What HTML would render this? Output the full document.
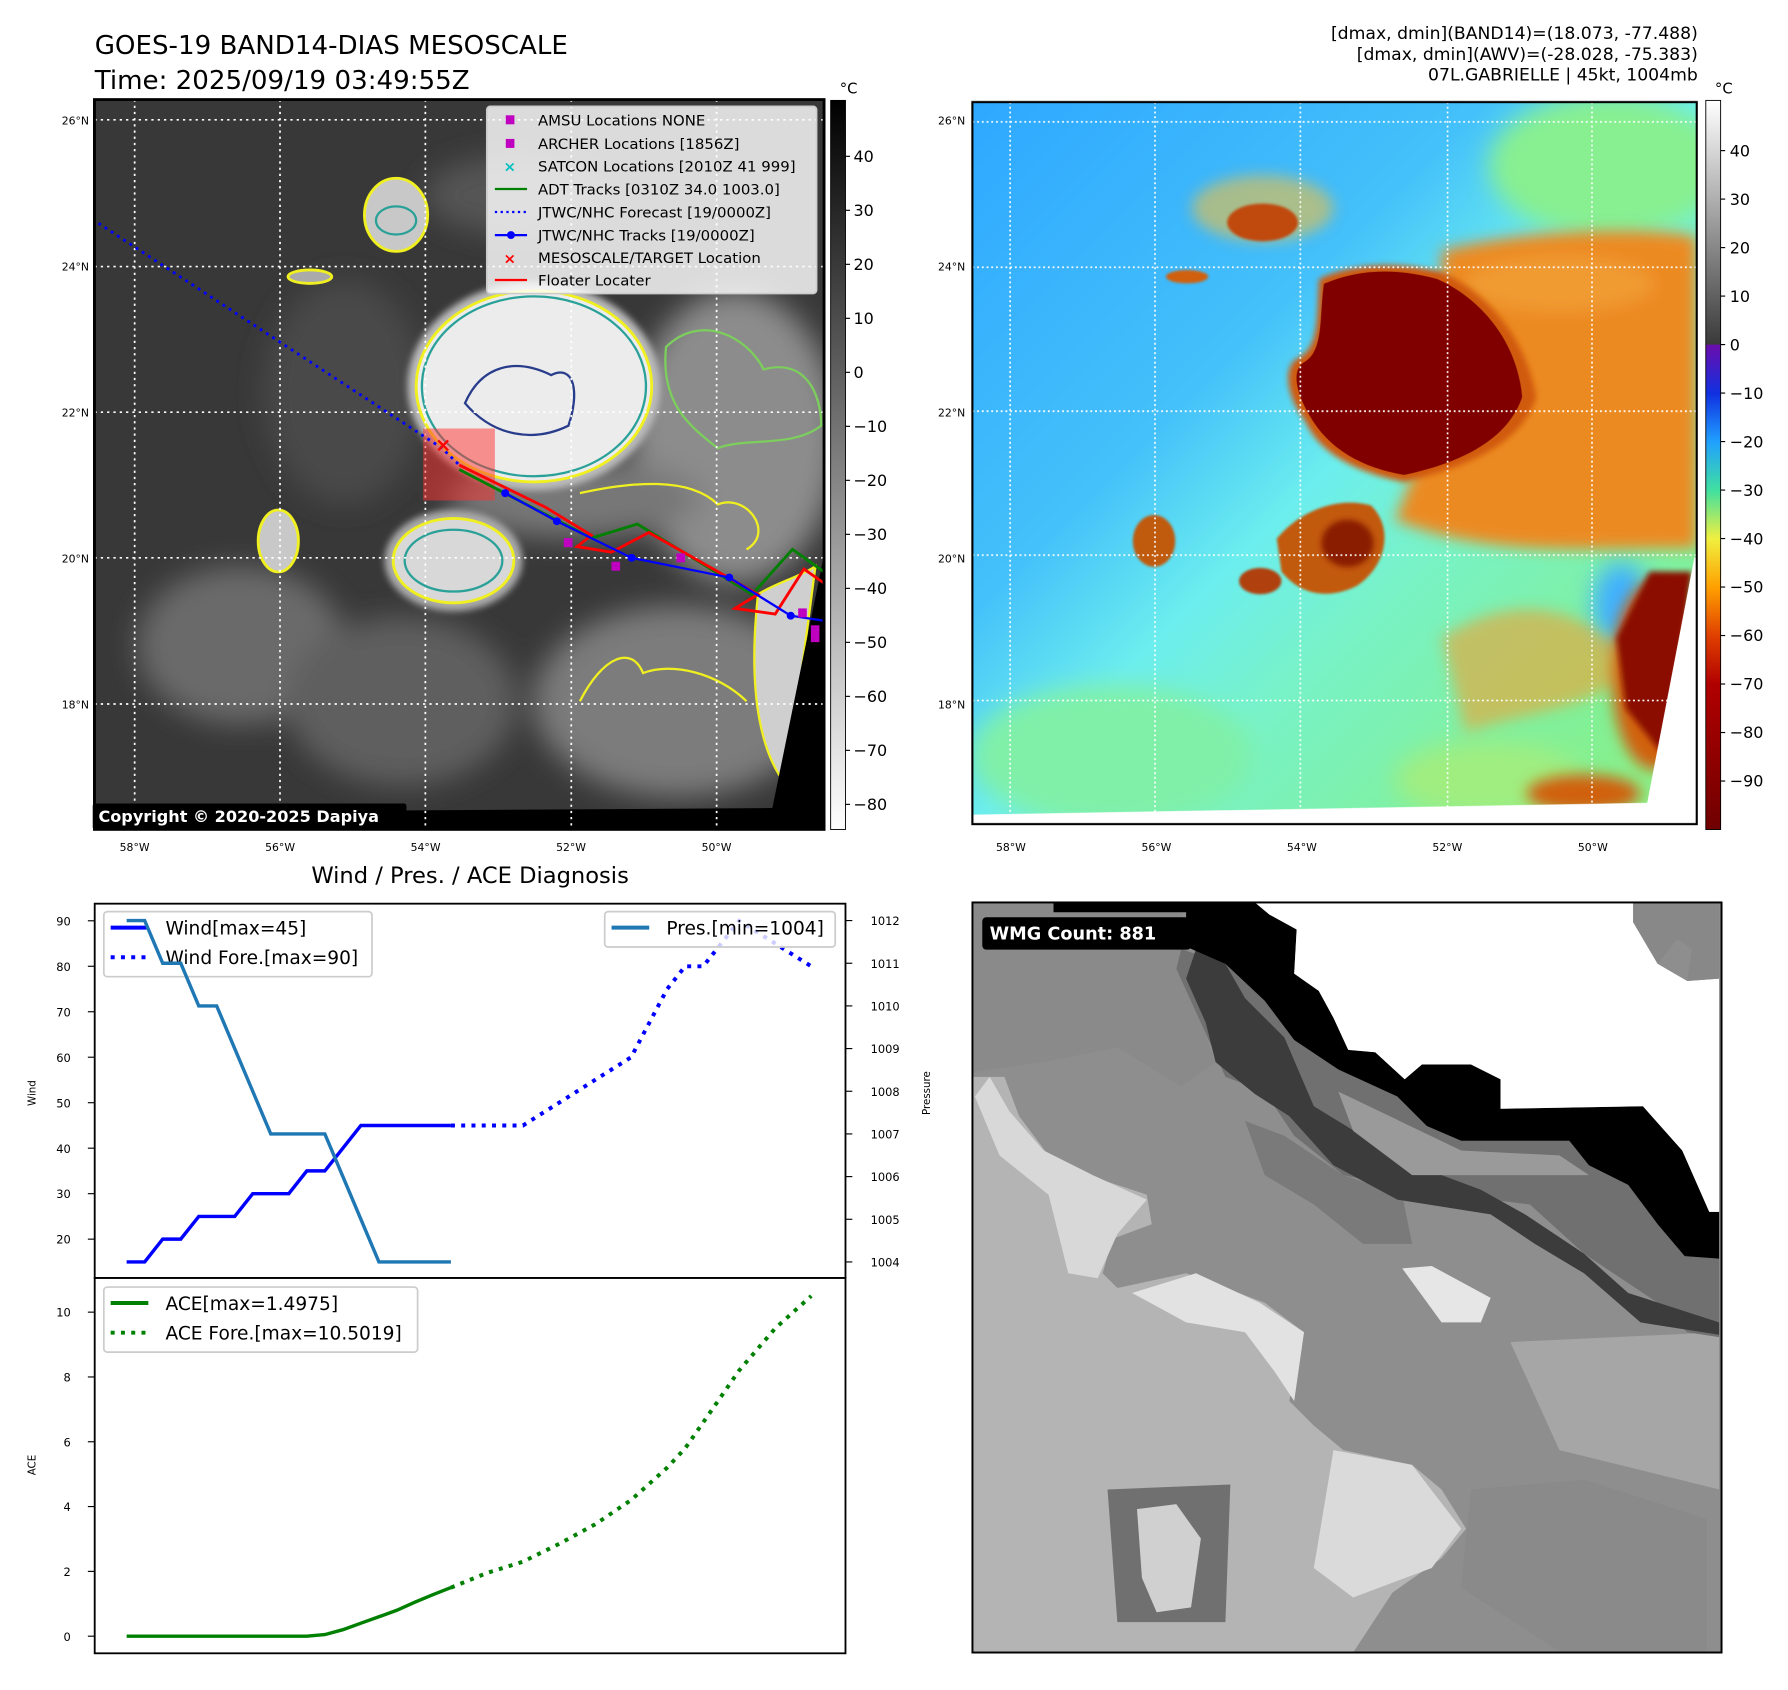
<!DOCTYPE html>
<html><head><meta charset="utf-8"><style>
html,body{margin:0;padding:0;background:#fff;}
svg{display:block;font-family:"DejaVu Sans","Liberation Sans",sans-serif;}
</style></head><body>
<svg id="root" width="1788" height="1690" viewBox="0 0 1788 1690" xmlns="http://www.w3.org/2000/svg">
<defs>
<filter id="b6" x="-50%" y="-50%" width="200%" height="200%"><feGaussianBlur stdDeviation="6"/></filter>
<filter id="b15" x="-50%" y="-50%" width="200%" height="200%"><feGaussianBlur stdDeviation="15"/></filter>
<filter id="b25" x="-50%" y="-50%" width="200%" height="200%"><feGaussianBlur stdDeviation="25"/></filter>
<filter id="b3" x="-50%" y="-50%" width="200%" height="200%"><feGaussianBlur stdDeviation="3"/></filter>
<linearGradient id="cbL" x1="0" y1="0" x2="0" y2="1"><stop offset="0" stop-color="#000"/><stop offset="1" stop-color="#fff"/></linearGradient>
<linearGradient id="cbR" x1="0" y1="0" x2="0" y2="1">
<stop offset="0" stop-color="#ffffff"/><stop offset="0.334" stop-color="#3a3a3a"/><stop offset="0.336" stop-color="#6a0dad"/>
<stop offset="0.402" stop-color="#1030e0"/><stop offset="0.468" stop-color="#20a0ff"/><stop offset="0.535" stop-color="#40e0a0"/>
<stop offset="0.601" stop-color="#f0f040"/><stop offset="0.668" stop-color="#ffa000"/><stop offset="0.734" stop-color="#e04000"/>
<stop offset="0.801" stop-color="#b00000"/><stop offset="1" stop-color="#700000"/></linearGradient>
<linearGradient id="awvBg" x1="0" y1="0" x2="1" y2="1">
<stop offset="0" stop-color="#2ea8ff"/><stop offset="0.35" stop-color="#44c0fa"/><stop offset="0.5" stop-color="#6ceeee"/><stop offset="0.62" stop-color="#78f2c8"/><stop offset="0.85" stop-color="#82f096"/><stop offset="1" stop-color="#90f080"/></linearGradient>
<clipPath id="clipL"><rect x="165" y="180" width="1270" height="1298"/></clipPath>
<clipPath id="clipR"><rect x="5" y="15" width="1535" height="1530"/></clipPath>
<clipPath id="clipW"><rect x="5" y="5" width="1525" height="1527"/></clipPath>
</defs>

<g transform="scale(1.141)">
<text x="83" y="47.5" font-size="22.9" fill="#000">GOES-19 BAND14-DIAS MESOSCALE</text>
<text x="83" y="78" font-size="22.9" fill="#000">Time: 2025/09/19 03:49:55Z</text>
<g font-size="15.1" text-anchor="end" fill="#000">
<text x="1488" y="34">[dmax, dmin](BAND14)=(18.073, -77.488)</text>
<text x="1488" y="52.5">[dmax, dmin](AWV)=(-28.028, -75.383)</text>
<text x="1488" y="70.5">07L.GABRIELLE | 45kt, 1004mb</text>
</g>

<g transform="matrix(0.5035,0,0,0.4928,-0.3,-1.45)">
<g clip-path="url(#clipL)">
<rect x="165" y="180" width="1270" height="1298" fill="#383838"/>
<g filter="url(#b25)">
<ellipse cx="420" cy="1150" rx="180" ry="140" fill="#6a6a6a"/>
<ellipse cx="700" cy="1250" rx="200" ry="150" fill="#5e5e5e"/>
<ellipse cx="600" cy="700" rx="140" ry="200" fill="#4a4a4a"/>
<ellipse cx="1280" cy="780" rx="180" ry="260" fill="#8c8c8c"/>
<ellipse cx="1180" cy="1250" rx="250" ry="170" fill="#7c7c7c"/>
<ellipse cx="1000" cy="890" rx="220" ry="70" fill="#777"/>
<ellipse cx="900" cy="350" rx="160" ry="70" fill="#555"/>
</g>
<g filter="url(#b6)">
<ellipse cx="930" cy="690" rx="220" ry="185" fill="#bbb"/>
<ellipse cx="790" cy="1000" rx="120" ry="90" fill="#aaa"/>
</g>
<ellipse cx="930" cy="690" rx="205" ry="170" fill="#ececec" stroke="#f0f020" stroke-width="5"/>
<ellipse cx="930" cy="690" rx="195" ry="160" fill="none" stroke="#2aa198" stroke-width="4"/>
<path d="M810,720 C840,650 900,640 960,670 C1000,650 1010,700 990,760 C930,790 860,780 810,720Z" fill="none" stroke="#283c8c" stroke-width="4"/>
<ellipse cx="790" cy="1000" rx="105" ry="75" fill="#d8d8d8" stroke="#f0f020" stroke-width="5"/>
<ellipse cx="790" cy="1000" rx="85" ry="55" fill="none" stroke="#2aa198" stroke-width="4"/>
<ellipse cx="485" cy="965" rx="35" ry="55" fill="#c8c8c8" stroke="#f0f020" stroke-width="5"/>
<ellipse cx="690" cy="385" rx="55" ry="65" fill="#c8c8c8" stroke="#f0f020" stroke-width="5"/>
<ellipse cx="690" cy="395" rx="35" ry="25" fill="none" stroke="#2aa198" stroke-width="4"/>
<ellipse cx="540" cy="495" rx="38" ry="12" fill="#aaa" stroke="#f0f020" stroke-width="5"/>
<path d="M1160,620 C1220,560 1300,600 1330,660 C1400,640 1430,700 1430,760 C1380,800 1300,780 1250,800 C1200,760 1150,720 1160,620Z" fill="none" stroke="#7ccf5c" stroke-width="4"/>
<path d="M1010,880 C1100,860 1200,850 1250,900 C1300,880 1350,950 1300,980" fill="none" stroke="#f0f020" stroke-width="4"/>
<path d="M1320,1060 C1350,1040 1390,1030 1420,1010 L1370,1400 C1330,1350 1300,1250 1320,1060Z" fill="#cfcfcf" stroke="#f0f020" stroke-width="4"/>
<path d="M1010,1250 C1050,1170 1100,1150 1120,1200 C1170,1180 1250,1200 1300,1250" fill="none" stroke="#f0f020" stroke-width="4"/>
<polygon points="1435,990 1345,1440 165,1448 165,1478 1435,1478" fill="#000"/>
<g stroke="#fff" stroke-width="3" stroke-dasharray="4,7">
<line x1="235" y1="180" x2="235" y2="1478"/><line x1="488" y1="180" x2="488" y2="1478"/><line x1="741" y1="180" x2="741" y2="1478"/><line x1="995" y1="180" x2="995" y2="1478"/><line x1="1248" y1="180" x2="1248" y2="1478"/>
<line x1="165" y1="216" x2="1435" y2="216"/><line x1="165" y1="477" x2="1435" y2="477"/><line x1="165" y1="736" x2="1435" y2="736"/><line x1="165" y1="995" x2="1435" y2="995"/><line x1="165" y1="1255" x2="1435" y2="1255"/>
</g>
<rect x="737" y="765" width="125" height="128" fill="#ff3030" opacity="0.5"/>
<polyline points="172,400 770,800 800,830" fill="none" stroke="#0000ff" stroke-width="5" stroke-dasharray="5,8"/>
<polyline points="800,838 1030,960 1110,935 1310,1060 1380,980 1435,1020" fill="none" stroke="#008000" stroke-width="5"/>
<polyline points="800,830 950,905 1030,955 1005,975 1065,985 1130,950 1320,1060 1280,1085 1350,1095 1400,1015 1435,1040" fill="none" stroke="#ff0000" stroke-width="5"/>
<polyline points="880,880 970,930 1100,995 1270,1030 1377,1098 1435,1107" fill="none" stroke="#0000ff" stroke-width="4"/>
<g fill="#0000ff"><circle cx="880" cy="880" r="7"/><circle cx="970" cy="930" r="7"/><circle cx="1100" cy="995" r="7"/><circle cx="1270" cy="1030" r="7"/><circle cx="1377" cy="1098" r="7"/></g>
<g fill="#c000c0"><rect x="982" y="960" width="15" height="16"/><rect x="1065" y="1002" width="15" height="16"/><rect x="1178" y="987" width="15" height="16"/><rect x="1390" y="1085" width="15" height="16"/><rect x="1412" y="1115" width="15" height="30"/></g>
<text x="772" y="806" font-size="34" fill="#ff0000" text-anchor="middle" font-weight="bold">×</text>
</g>
<rect x="165" y="180" width="1270" height="1298" fill="none" stroke="#000" stroke-width="5"/>
<rect x="162" y="1432" width="546" height="46" rx="4" fill="#000"/>
<text x="172" y="1465" font-size="28" font-weight="bold" fill="#fff">Copyright © 2020-2025 Dapiya</text>
<g>
<rect x="848" y="192" width="574" height="333" rx="6" fill="#fff" fill-opacity="0.82" stroke="#ccc" stroke-width="3"/>
<g font-size="26" fill="#000">
<rect x="881" y="208" width="15" height="16" fill="#c000c0"/><text x="937" y="226">AMSU Locations NONE</text>
<rect x="881" y="250" width="15" height="16" fill="#c000c0"/><text x="937" y="268">ARCHER Locations [1856Z]</text>
<text x="888" y="308" fill="#00c0c0" text-anchor="middle" font-weight="bold">×</text><text x="937" y="308">SATCON Locations [2010Z 41 999]</text>
<line x1="862" y1="339" x2="918" y2="339" stroke="#008000" stroke-width="4"/><text x="937" y="349">ADT Tracks [0310Z 34.0 1003.0]</text>
<line x1="862" y1="380" x2="918" y2="380" stroke="#0000ff" stroke-width="4" stroke-dasharray="4,6"/><text x="937" y="390">JTWC/NHC Forecast [19/0000Z]</text>
<line x1="862" y1="421" x2="918" y2="421" stroke="#0000ff" stroke-width="4"/><circle cx="890" cy="421" r="7" fill="#0000ff"/><text x="937" y="431">JTWC/NHC Tracks [19/0000Z]</text>
<text x="888" y="472" fill="#ff0000" text-anchor="middle" font-weight="bold">×</text><text x="937" y="471">MESOSCALE/TARGET Location</text>
<line x1="862" y1="501" x2="918" y2="501" stroke="#ff0000" stroke-width="4"/><text x="937" y="511">Floater Locater</text>
</g></g>
</g>
<rect x="728" y="88" width="13" height="639" fill="url(#cbL)" stroke="#000" stroke-width="0.8"/>
<text x="736" y="82" font-size="13">°C</text>
<g id="cbLticks" font-size="14" fill="#000"></g>
<g id="latlonL" font-size="9.5" fill="#000"></g>

<rect x="1495" y="88" width="13" height="639" fill="url(#cbR)" stroke="#000" stroke-width="0.8"/>
<text x="1503" y="82" font-size="13">°C</text>
<g id="cbRticks" font-size="14" fill="#000"></g>
<g id="latlonR" font-size="9.5" fill="#000"></g>

<text x="412" y="774" font-size="19.8" text-anchor="middle">Wind / Pres. / ACE Diagnosis</text>
<g id="chart"></g>
</g>

<g transform="translate(970,95) scale(0.4719)">
<g clip-path="url(#clipR)">
<rect x="5" y="15" width="1535" height="1530" fill="url(#awvBg)"/>
<g filter="url(#b25)">
<ellipse cx="1350" cy="150" rx="250" ry="150" fill="#88f090"/>
<ellipse cx="300" cy="1400" rx="300" ry="150" fill="#80f0a8"/>
<ellipse cx="1380" cy="1080" rx="60" ry="90" fill="#40b0ff"/>
<ellipse cx="1100" cy="1450" rx="200" ry="80" fill="#a0ee80"/>
</g>
<g filter="url(#b15)">
<path d="M1000,330 C1200,280 1450,280 1540,300 L1540,960 C1300,960 1100,980 900,900 C950,800 1000,600 1000,330Z" fill="#ec8a24"/>
<ellipse cx="1250" cy="400" rx="200" ry="60" fill="#f09a30"/>
<ellipse cx="620" cy="240" rx="150" ry="70" fill="#f0c040" opacity="0.6"/>
<path d="M1000,1150 C1150,1050 1300,1080 1400,1200 C1350,1300 1200,1300 1050,1350Z" fill="#f0a030" opacity="0.6"/>
<ellipse cx="1450" cy="1230" rx="90" ry="200" fill="#d06010"/>
<ellipse cx="1300" cy="1480" rx="120" ry="40" fill="#d06010"/>
</g>
<path d="M740,390 C800,360 900,350 1000,375 C1100,420 1180,520 1200,640 C1170,740 1050,790 920,820 C820,800 740,760 710,690 C670,640 660,570 700,555 C740,530 735,470 740,390Z" fill="#d05a10" filter="url(#b6)"/>
<path d="M750,400 C820,370 900,365 990,390 C1080,430 1160,520 1170,640 C1140,730 1040,780 920,805 C830,790 760,750 720,680 C690,630 680,580 710,565 C750,540 740,470 750,400Z" fill="#800000"/>
<path d="M650,940 C700,880 780,850 850,870 C900,920 880,1000 820,1040 C760,1070 700,1060 660,1010Z" fill="#c25a10" filter="url(#b3)"/>
<ellipse cx="800" cy="950" rx="55" ry="50" fill="#8a1a00" filter="url(#b6)"/>
<ellipse cx="390" cy="945" rx="45" ry="55" fill="#c05a10" filter="url(#b3)"/>
<ellipse cx="615" cy="1030" rx="45" ry="28" fill="#b04010" filter="url(#b3)"/>
<ellipse cx="620" cy="270" rx="75" ry="40" fill="#c04a10" filter="url(#b3)"/>
<ellipse cx="460" cy="385" rx="45" ry="14" fill="#d06010" filter="url(#b3)"/>
<path d="M1440,1010 L1530,1010 L1490,1300 L1470,1400 L1390,1300 L1370,1150Z" fill="#8a1000" filter="url(#b6)"/>
<polygon points="1535,980 1435,1500 5,1525 5,1545 1540,1545 1540,980" fill="#fff"/>
<g stroke="#fff" stroke-width="3.5" stroke-dasharray="4,6">
<line x1="85" y1="15" x2="85" y2="1545"/><line x1="392" y1="15" x2="392" y2="1545"/><line x1="700" y1="15" x2="700" y2="1545"/><line x1="1012" y1="15" x2="1012" y2="1545"/><line x1="1318" y1="15" x2="1318" y2="1545"/>
<line x1="5" y1="57" x2="1540" y2="57"/><line x1="5" y1="365" x2="1540" y2="365"/><line x1="5" y1="670" x2="1540" y2="670"/><line x1="5" y1="975" x2="1540" y2="975"/><line x1="5" y1="1283" x2="1540" y2="1283"/>
</g>
</g>
<rect x="5" y="15" width="1535" height="1530" fill="none" stroke="#000" stroke-width="4.5"/>
</g>

<g transform="translate(970,900) scale(0.4912)">
<g clip-path="url(#clipW)">
<rect x="5" y="5" width="1525" height="1527" fill="#8e8e8e"/>
<polygon points="5,5 430,5 440,100 470,250 500,330 430,380 300,300 150,330 5,350" fill="#8a8a8a"/>
<polygon points="5,360 70,360 100,440 160,520 240,560 360,600 370,660 290,690 270,760 300,790 440,760 600,820 680,880 650,1020 700,1070 760,1120 900,1150 960,1200 1010,1280 960,1340 860,1410 780,1532 5,1532" fill="#b4b4b4"/>
<polygon points="40,360 80,430 150,510 250,560 360,610 300,680 260,770 200,760 160,600 60,520 10,400" fill="#d8d8d8"/>
<polygon points="330,800 460,760 590,820 680,880 660,1020 620,960 560,880 440,860" fill="#e2e2e2"/>
<polygon points="740,1120 900,1150 1000,1280 940,1360 780,1420 700,1360" fill="#dadada"/>
<polygon points="880,750 940,745 1060,810 1040,860 960,860" fill="#e6e6e6"/>
<polygon points="280,1200 530,1190 520,1470 300,1470" fill="#707070"/>
<polygon points="340,1240 420,1230 470,1300 450,1440 380,1450 350,1380" fill="#d0d0d0"/>
<polygon points="640,480 760,560 880,600 900,700 800,700 700,620 600,560 560,450" fill="#7a7a7a"/>
<polygon points="1020,1200 1250,1180 1500,1260 1500,1530 1200,1530 1000,1400" fill="#8a8a8a"/>
<polygon points="1100,900 1525,880 1525,1200 1200,1120" fill="#a6a6a6"/>
<polygon points="430,100 520,130 600,205 660,285 750,345 870,400 930,460 1000,490 1220,490 1260,540 1340,580 1400,660 1455,725 1525,730 1525,890 1460,880 1400,820 1340,780 1250,720 1140,620 900,590 760,560 660,480 600,390 520,360 470,250 420,140" fill="#707070"/>
<polygon points="460,100 520,130 560,200 640,280 700,420 880,530 1040,590 1130,640 1250,720 1340,800 1525,860 1525,885 1365,860 1250,760 1150,700 1060,640 870,610 740,540 650,440 580,395 500,330 480,250 440,160" fill="#3c3c3c"/>
<polygon points="750,390 1000,510 1200,520 1260,560 1100,560 900,560 780,470" fill="#9a9a9a"/>
<polygon points="170,5 580,5 610,30 665,60 660,150 710,185 740,240 770,305 825,310 885,365 920,335 1020,335 1080,365 1080,425 1370,420 1450,510 1505,635 1525,635 1525,730 1455,725 1400,660 1340,580 1260,540 1220,490 1000,490 930,460 870,400 750,345 660,285 600,205 520,130 440,95 440,25 170,25" fill="#000"/>
<polygon points="580,5 1350,5 1350,45 1400,130 1460,165 1525,160 1525,635 1505,635 1450,510 1370,420 1080,425 1080,365 1020,335 920,335 885,365 825,310 770,305 740,240 710,185 660,150 665,60 610,30" fill="#fff"/>
<polygon points="1350,5 1525,5 1525,160 1460,165 1470,100 1440,80 1400,130 1350,45" fill="#888"/>
</g>
<rect x="5" y="5" width="1525" height="1527" fill="none" stroke="#000" stroke-width="4"/>
<rect x="25" y="35" width="425" height="66" rx="8" fill="#000"/>
<text x="40" y="80" font-size="36" font-weight="bold" fill="#fff">WMG Count: 881</text>
</g>
</svg>

<script>
// ===== chart data =====
const obsHours = [-108,-102,-96,-90,-84,-78,-72,-66,-60,-54,-48,-42,-36,-30,-24,-18,-12,-6,0];
const obsWind = [15,15,20,20,25,25,25,30,30,30,35,35,40,45,45,45,45,45,45];
const obsPres = [1012,1012,1011,1011,1010,1010,1009,1008,1007,1007,1007,1007,1006,1005,1004,1004,1004,1004,1004];
const obsAce = [0,0,0,0,0,0,0,0,0,0,0,0.05,0.2,0.4,0.6,0.8,1.05,1.28,1.5];
const fcHours = [0,12,24,36,48,60,72,78,84,96,108,120];
const fcWind = [45,45,45,50,55,60,75,80,80,90,85,80];
const fcAce = [1.5,1.95,2.3,2.85,3.45,4.2,5.2,5.8,6.6,8.2,9.5,10.5];
const windTicks = [20,30,40,50,60,70,80,90];
const presTicks = [1004,1005,1006,1007,1008,1009,1010,1011,1012];
const aceTicks = [0,2,4,6,8,10];
const cbLTicks = [40,30,20,10,0,-10,-20,-30,-40,-50,-60,-70,-80];
const cbRTicks = [40,30,20,10,0,-10,-20,-30,-40,-50,-60,-70,-80,-90];
const latTicks = [26,24,22,20,18];
const lonTicks = [58,56,54,52,50];

const NS='http://www.w3.org/2000/svg';
function mk(tag, attrs, parent, txt){const e=document.createElementNS(NS,tag);for(const k in attrs)e.setAttribute(k,attrs[k]);if(txt!==undefined)e.textContent=txt;parent.appendChild(e);return e;}
const X = h => 111 + (h+108)*2.6316;
const YW = w => 807 + (90-w)*3.986;
const YP = p => 1106 - (p-1004)*37.4;
const YA = a => 1434 - a*28.4;
const chart = document.getElementById('chart');

let f1 = mk('rect',{x:83,y:792,width:658,height:328,fill:'none',stroke:'#000','stroke-width':1.6},chart);


let f2 = mk('rect',{x:83,y:1120,width:658,height:329,fill:'none',stroke:'#000','stroke-width':1.6},chart);



windTicks.forEach(v=>{const y=YW(v);mk('line',{x1:77,y1:y,x2:83,y2:y,stroke:'#000'},chart);
 const t=mk('text',{x:62,y:y+4,'font-size':10,'text-anchor':'end'},chart,String(v));
 
 });
presTicks.forEach(v=>{const y=YP(v);mk('line',{x1:741,y1:y,x2:747,y2:y,stroke:'#000'},chart);
 const t=mk('text',{x:763,y:y+4,'font-size':10},chart,String(v));
 
 });
aceTicks.forEach(v=>{const y=YA(v);mk('line',{x1:77,y1:y,x2:83,y2:y,stroke:'#000'},chart);
 const t=mk('text',{x:62,y:y+4,'font-size':10,'text-anchor':'end'},chart,String(v));
 
 });
let yl1=mk('text',{x:0,y:0,'font-size':9,'text-anchor':'middle',transform:'translate(31,958) rotate(-90)'},chart,'Wind');


let yl2=mk('text',{x:0,y:0,'font-size':9,'text-anchor':'middle',transform:'translate(815,958) rotate(-90)'},chart,'Pressure');


let yl3=mk('text',{x:0,y:0,'font-size':9,'text-anchor':'middle',transform:'translate(31,1284) rotate(-90)'},chart,'ACE');



function pts(hs,vs,fy){return hs.map((h,i)=>X(h).toFixed(1)+','+fy(vs[i]).toFixed(1)).join(' ');}
let l;
l=mk('polyline',{points:pts(obsHours,obsWind,YW),fill:'none',stroke:'#0000ff','stroke-width':3},chart);


l=mk('polyline',{points:pts(fcHours,fcWind,YW),fill:'none',stroke:'#0000ff','stroke-width':3.5,'stroke-dasharray':'3.5,5.5'},chart);


l=mk('polyline',{points:pts(obsHours,obsAce,YA),fill:'none',stroke:'#008000','stroke-width':3},chart);


l=mk('polyline',{points:pts(fcHours,fcAce,YA),fill:'none',stroke:'#008000','stroke-width':3.5,'stroke-dasharray':'3.5,5.5'},chart);



function legend(x,y,w,h,items,name){const g=mk('g',{},chart);
 
 
 mk('rect',{x:x,y:y,width:w,height:h,rx:3,fill:'#fff','fill-opacity':0.8,stroke:'#ccc','stroke-width':1.5},g);
 items.forEach((it,i)=>{const yy=y+14+i*26;
  mk('line',{x1:x+6,y1:yy,x2:x+39,y2:yy,stroke:it.c,'stroke-width':3.5,'stroke-dasharray':it.d?'3.5,5.5':'none'},g);
  mk('text',{x:x+54,y:yy+6,'font-size':16.3},g,it.t);});
 return g;}
legend(91,799,235,57,[{c:'#0000ff',t:'Wind[max=45]'},{c:'#0000ff',t:'Wind Fore.[max=90]',d:1}],'wind-legend');
legend(530,799,202,31,[{c:'#1f77b4',t:'Pres.[min=1004]'}],'pressure-legend');
legend(91,1128,275,57,[{c:'#008000',t:'ACE[max=1.4975]'},{c:'#008000',t:'ACE Fore.[max=10.5019]',d:1}],'ace-legend');
l=mk('polyline',{points:pts(obsHours,obsPres,YP),fill:'none',stroke:'#1f77b4','stroke-width':3},chart);



const gL=document.getElementById('cbLticks');
cbLTicks.forEach(v=>{const y=137+(40-v)*4.733;mk('line',{x1:741,y1:y,x2:745,y2:y,stroke:'#000'},gL);
 const t=mk('text',{x:748,y:y+5},gL,v<0?'\u2212'+(-v):String(v));
 
 });
const gR=document.getElementById('cbRticks');
cbRTicks.forEach(v=>{const y=302-v*4.25;mk('line',{x1:1508,y1:y,x2:1512,y2:y,stroke:'#000'},gR);
 const t=mk('text',{x:1516,y:y+5},gR,v<0?'\u2212'+(-v):String(v));
 
 });
[['latlonL',0],['latlonR',768]].forEach(([id,dx])=>{const g=document.getElementById(id);
 latTicks.forEach(la=>{const y=105+(26-la)*64;
  const t=mk('text',{x:78+dx,y:y+4,'text-anchor':'end'},g,la+'°N');
  
  });
 lonTicks.forEach(lo=>{const x=118+(58-lo)*63.75+dx;
  const t=mk('text',{x:x,y:746,'text-anchor':'middle'},g,lo+'°W');
  
  });
});
</script>
</body></html>
